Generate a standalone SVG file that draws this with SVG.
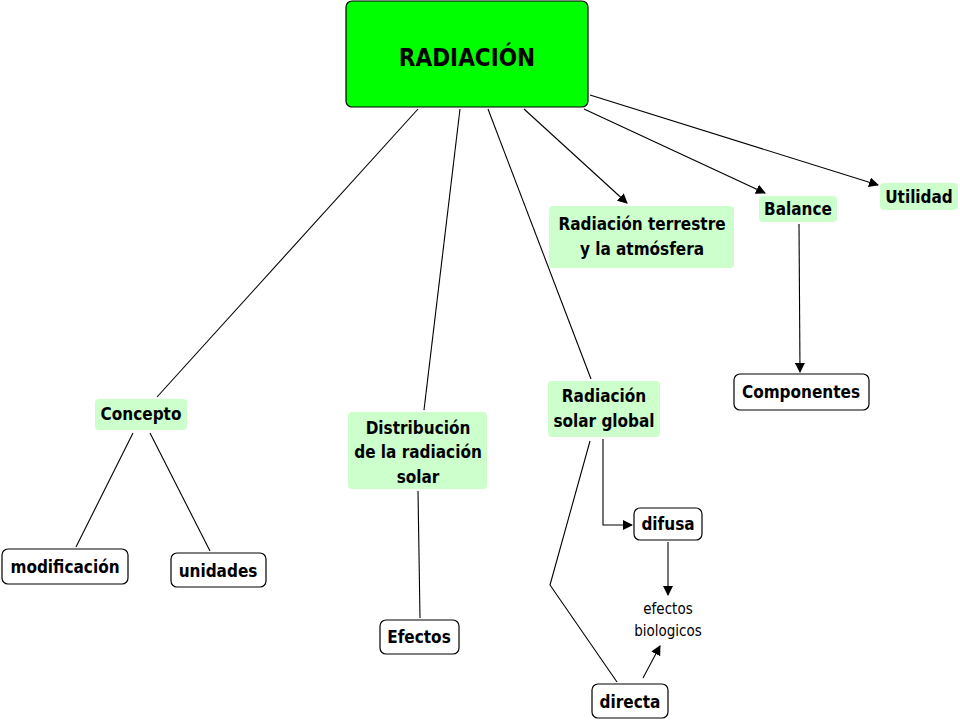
<svg xmlns="http://www.w3.org/2000/svg" width="960" height="720" viewBox="0 0 960 720">
<style>
text{font-family:"DejaVu Sans Condensed","DejaVu Sans",sans-serif;font-weight:bold;font-size:17px;text-anchor:middle;fill:#000}
.g{fill:#ccffcc;stroke:none}
.w{fill:#fff;stroke:#000;stroke-width:1.2}
.c line,.c polyline{stroke:#000;stroke-width:1.1;fill:none}
.a{marker-end:url(#ah)}
</style>
<defs><marker id="ah" markerWidth="10" markerHeight="10" refX="9" refY="5" orient="auto" markerUnits="userSpaceOnUse"><path d="M0,0 L10,5 L0,10 z" fill="#000"/></marker></defs>
<rect width="960" height="720" fill="#fff"/>
<g class="c">
<line x1="418" y1="109" x2="157" y2="397"/>
<line x1="460" y1="109" x2="424" y2="410"/>
<line x1="488" y1="109" x2="591" y2="379"/>
<line class="a" x1="524" y1="109" x2="627" y2="203"/>
<line class="a" x1="584" y1="109" x2="765" y2="193"/>
<line class="a" x1="590" y1="95" x2="878" y2="185"/>
<line x1="133" y1="433" x2="76" y2="547"/>
<line x1="150" y1="433" x2="210" y2="551"/>
<line x1="418" y1="491" x2="420" y2="618"/>
<line class="a" x1="799" y1="224" x2="800" y2="372"/>
<polyline class="a" points="603,439 603,525 632,525"/>
<line class="a" x1="668" y1="542" x2="668" y2="595"/>
<polyline points="590,441 550,585 617,682"/>
<line class="a" x1="643" y1="678" x2="660" y2="646"/>
</g>
<g id="radiacion"><rect x="346" y="1" width="242" height="106" rx="6" fill="#00ff00" stroke="#000" stroke-width="1.2"/><text x="467" y="66" style="font-size:24px">RADIACIÓN</text></g>
<g id="concepto"><rect class="g" x="95" y="399" width="92" height="31" rx="4"/><text x="141" y="420">Concepto</text></g>
<g id="distribucion"><rect class="g" x="348" y="412" width="139" height="77" rx="4"/><text x="418" y="434">Distribución</text><text x="418" y="458">de la radiación</text><text x="418" y="483">solar</text></g>
<g id="solarglobal"><rect class="g" x="548" y="381" width="112" height="56" rx="4"/><text x="604" y="402">Radiación</text><text x="604" y="427">solar global</text></g>
<g id="terrestre"><rect class="g" x="549" y="206" width="185" height="62" rx="4"/><text x="642" y="230">Radiación terrestre</text><text x="642" y="255">y la atmósfera</text></g>
<g id="balance"><rect class="g" x="759" y="196" width="78" height="26" rx="4"/><text x="798" y="215">Balance</text></g>
<g id="utilidad"><rect class="g" x="880" y="183" width="78" height="27" rx="4"/><text x="919" y="203">Utilidad</text></g>
<g id="componentes"><rect class="w" x="734" y="374" width="135" height="36" rx="6"/><text x="801" y="398">Componentes</text></g>
<g id="modificacion"><rect class="w" x="2" y="549" width="126" height="35" rx="6"/><text x="65" y="573">modificación</text></g>
<g id="unidades"><rect class="w" x="171" y="553" width="95" height="34" rx="6"/><text x="218" y="577">unidades</text></g>
<g id="efectos"><rect class="w" x="380" y="620" width="79" height="34" rx="6"/><text x="419" y="643">Efectos</text></g>
<g id="difusa"><rect class="w" x="634" y="508" width="68" height="32" rx="6"/><text x="668" y="530">difusa</text></g>
<g id="biologicos"><text x="668" y="614" style="font-weight:normal;font-size:15px">efectos</text><text x="668" y="636" style="font-weight:normal;font-size:15px">biologicos</text></g>
<g id="directa"><rect class="w" x="592" y="684" width="76" height="34" rx="6"/><text x="630" y="708">directa</text></g>
</svg>
